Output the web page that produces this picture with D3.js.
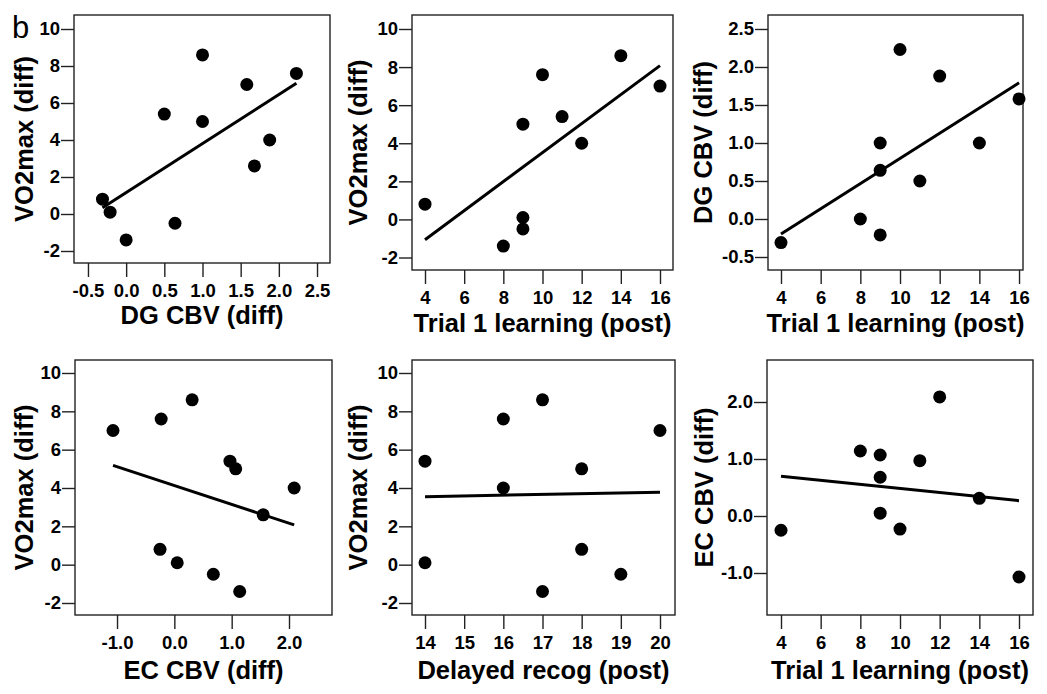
<!DOCTYPE html>
<html>
<head>
<meta charset="UTF-8">
<title>VO2max / CBV / learning scatterplots</title>
<script src="https://cdn.jsdelivr.net/npm/d3@7"></script>
<style>
  body { margin: 0; background: #fff; }
  text { font-family: "Liberation Sans", Arial, sans-serif; fill: #000; }
  .tick text { font-weight: bold; font-size: 18.5px; }
  .title { font-weight: bold; font-size: 25.5px; }
</style>
</head>
<body>
<div id="chart"></div>
<script>
// one entry per subject, null = no score
var vo2max   = [0.8, 0.1, -1.4, 5.4, -0.5, 8.6, 5.0, 7.0, 2.6, 4.0, 7.6];
var dgCbv    = [-0.31, -0.21, 0.0, 0.5, 0.64, 1.0, 1.0, 1.58, 1.68, 1.88, 2.23];
var ecCbv    = [-0.25, 0.05, 1.14, 0.97, 0.68, 0.31, 1.07, -1.07, 1.55, 2.09, -0.23];
var trial1   = [4, 9, 8, 11, 9, 14, 9, 16, null, 12, 10];
var delayed  = [18, 14, 17, 14, 19, 17, 18, 20, null, 16, 16];

var ticksVo2   = [-2, 0, 2, 4, 6, 8, 10];
var ticksDg    = [-0.5, 0, 0.5, 1, 1.5, 2, 2.5];
var ticksEc    = [-1, 0, 1, 2];
var ticksTrial = [4, 6, 8, 10, 12, 14, 16];
var ticksRecog = [14, 15, 16, 17, 18, 19, 20];

var w = 1047, h = 694;

var fmtInt = function(d){ return String(d); };
var fmtOne = function(d){ return d3.format(".1f")(d).replace("\u2212", "-"); };

// box = frame in px [left, right, top, bottom]
var panels = [
  {xs: dgCbv, ys: vo2max, xd: [-0.683, 2.67], yd: [-2.649, 10.757], xt: ticksDg, yt: ticksVo2,
   xf: fmtOne, yf: fmtInt, box: [74, 330, 15, 263], xl: "DG CBV (diff)", yl: "VO2max (diff)", xly: 324, ylx: 33},
  {xs: trial1, ys: vo2max, xd: [3.336, 16.664], yd: [-2.656, 10.735], xt: ticksTrial, yt: ticksVo2,
   xf: fmtInt, yf: fmtInt, box: [412, 673, 15, 270], xl: "Trial 1 learning (post)", yl: "VO2max (diff)", xly: 332, ylx: 367},
  {xs: trial1, ys: dgCbv, xd: [3.345, 16.2], yd: [-0.671, 2.684], xt: ticksTrial, yt: ticksDg,
   xf: fmtInt, yf: fmtOne, box: [768, 1023, 15, 270], xl: "Trial 1 learning (post)", yl: "DG CBV (diff)", xly: 332, ylx: 712},
  {xs: ecCbv, ys: vo2max, xd: [-1.733, 2.75], yd: [-2.626, 10.678], xt: ticksEc, yt: ticksVo2,
   xf: fmtOne, yf: fmtInt, box: [75, 332, 360, 615], xl: "EC CBV (diff)", yl: "VO2max (diff)", xly: 679, ylx: 33},
  {xs: delayed, ys: vo2max, xd: [13.668, 20.383], yd: [-2.626, 10.678], xt: ticksRecog, yt: ticksVo2,
   xf: fmtInt, yf: fmtInt, box: [412, 675, 360, 615], xl: "Delayed recog (post)", yl: "VO2max (diff)", xly: 679, ylx: 367},
  {xs: trial1, ys: ecCbv, xd: [3.294, 16.706], yd: [-1.737, 2.737], xt: ticksTrial, yt: ticksEc,
   xf: fmtInt, yf: fmtOne, box: [767, 1033, 360, 615], xl: "Trial 1 learning (post)", yl: "EC CBV (diff)", xly: 679, ylx: 713}
];

var svg = d3.select('#chart').append('svg')
  .attr('width', w)
  .attr('height', h);

svg.append('text')
  .attr('x', 12).attr('y', 38)
  .style('font-size', '31px')
  .text('b');

panels.forEach(function(p){
  var b = p.box;
  var x = d3.scaleLinear().domain(p.xd).range([b[0], b[1]]);
  var y = d3.scaleLinear().domain(p.yd).range([b[3], b[2]]);

  var pts = p.xs.map(function(v, i){ return [v, p.ys[i]]; })
    .filter(function(d){ return d[0] != null && d[1] != null; });

  var g = svg.append('g');

  // axes
  var ax = g.append('g').attr('transform', 'translate(0,' + b[3] + ')')
    .call(d3.axisBottom(x).tickValues(p.xt).tickFormat(p.xf).tickSize(14).tickPadding(7));
  var ay = g.append('g').attr('transform', 'translate(' + b[0] + ',0)')
    .call(d3.axisLeft(y).tickValues(p.yt).tickFormat(p.yf).tickSize(13).tickPadding(1));
  [ax, ay].forEach(function(a){
    a.select('.domain').remove();
    a.selectAll('.tick line').attr('stroke', '#222').attr('stroke-width', 1.4);
    a.selectAll('.tick text').attr('font-size', null).attr('font-family', null);
  });

  g.append('rect')
    .attr('x', b[0]).attr('y', b[2])
    .attr('width', b[1] - b[0]).attr('height', b[3] - b[2])
    .attr('fill', 'none').attr('stroke', '#222').attr('stroke-width', 1.4);

  // least-squares fit over the data range
  var mx = d3.mean(pts, function(d){ return d[0]; });
  var my = d3.mean(pts, function(d){ return d[1]; });
  var sxy = d3.sum(pts, function(d){ return (d[0] - mx) * (d[1] - my); });
  var sxx = d3.sum(pts, function(d){ return (d[0] - mx) * (d[0] - mx); });
  var slope = sxy / sxx, icpt = my - slope * mx;
  var ext = d3.extent(pts, function(d){ return d[0]; });
  g.append('line')
    .attr('x1', x(ext[0])).attr('y1', y(icpt + slope * ext[0]))
    .attr('x2', x(ext[1])).attr('y2', y(icpt + slope * ext[1]))
    .attr('stroke', '#000').attr('stroke-width', 3);

  g.selectAll('circle').data(pts).enter().append('circle')
    .attr('cx', function(d){ return x(d[0]); })
    .attr('cy', function(d){ return y(d[1]); })
    .attr('r', 6.5)
    .attr('fill', '#000');

  g.append('text').attr('class', 'title')
    .attr('x', (b[0] + b[1]) / 2).attr('y', p.xly)
    .attr('text-anchor', 'middle')
    .text(p.xl);

  g.append('text').attr('class', 'title')
    .attr('transform', 'translate(' + p.ylx + ',' + (b[2] + b[3]) / 2 + ') rotate(-90)')
    .attr('text-anchor', 'middle')
    .text(p.yl);
});
</script>
</body>
</html>
